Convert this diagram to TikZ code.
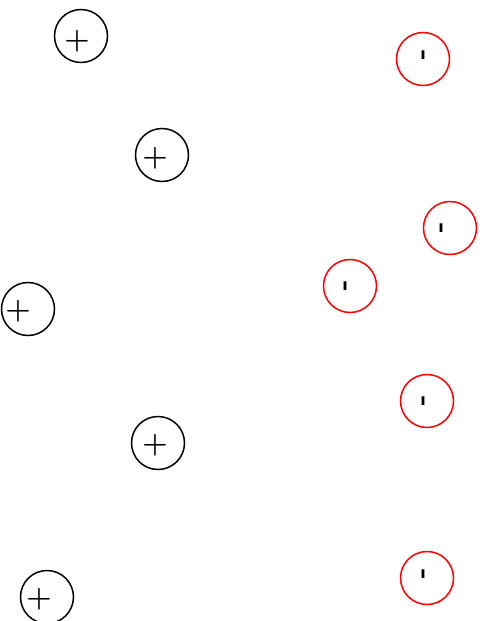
\documentclass[tikz,border=0pt]{standalone}
\usepackage{fontspec}
\newfontfamily\barfont{DejaVu Sans}
\begin{document}
\begin{tikzpicture}[x=1pt,y=-1pt,
  poscirc/.style={circle,draw=black,line width=1.5pt,minimum size=53pt,inner sep=0pt},
  negcirc/.style={circle,draw=red,line width=1.5pt,minimum size=53pt,inner sep=0pt},
  plussign/.style={inner sep=0pt,font=\fontsize{29}{29}\selectfont\bfseries},
  barsign/.style={inner sep=0pt,font=\barfont\bfseries\fontsize{16}{16}\selectfont}]
\useasboundingbox (0,0) rectangle (487,621);
\node[poscirc] (p1) at (81,36) {};
\node[poscirc] (p2) at (162,155) {};
\node[poscirc] (p3) at (28,309) {};
\node[poscirc] (p4) at (158,443) {};
\node[poscirc] (p5) at (47,597) {};
\node[plussign] (tp1) at (77,41) {+};
\node[plussign] (tp2) at (155,158) {+};
\node[plussign] (tp3) at (18,311) {+};
\node[plussign] (tp4) at (155,445) {+};
\node[plussign] (tp5) at (39,599) {+};
\node[negcirc] (n1) at (423,59) {};
\node[negcirc] (n2) at (450,228) {};
\node[negcirc] (n3) at (350,286) {};
\node[negcirc] (n4) at (427,401) {};
\node[negcirc] (n5) at (427,578) {};
\node[barsign] (tn1) at (423,55) {ı};
\node[barsign] (tn2) at (441,228) {ı};
\node[barsign] (tn3) at (345,286) {ı};
\node[barsign] (tn4) at (423,401) {ı};
\node[barsign] (tn5) at (423,574) {ı};
\end{tikzpicture}
\end{document}
